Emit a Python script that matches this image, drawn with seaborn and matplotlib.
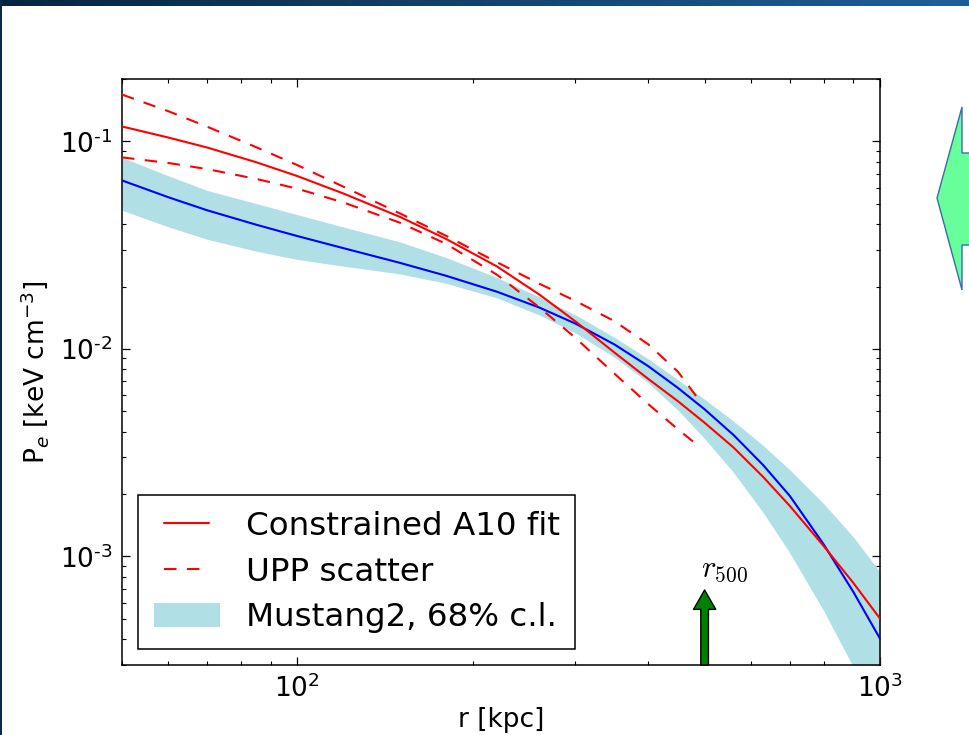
import numpy as np
import pandas as pd
import matplotlib
matplotlib.use("Agg")
import matplotlib.pyplot as plt
import seaborn as sns
from matplotlib.patches import Polygon
from matplotlib.colors import LinearSegmentedColormap
from matplotlib.legend_handler import HandlerLine2D
from matplotlib.ticker import LogLocator, FuncFormatter, NullFormatter

# ---------------------------------------------------------------- data
# radius grid (kpc) for the Mustang2 profile and the A10 fit
r_grid = [50, 60, 70, 85, 100, 120, 150, 180, 220, 260, 300, 350, 400,
          450, 500, 560, 630, 700, 800, 900, 1000]

# Mustang2 pressure profile: median and 68% confidence band (keV cm^-3)
p_m2 = [0.0649, 0.0539, 0.0466, 0.0397, 0.0350, 0.0306, 0.0260, 0.02253,
        0.01888, 0.01585, 0.01326, 0.01052, 0.00827, 0.00649, 0.00512,
        0.00386, 0.00276, 0.00196, 0.001147, 0.000675, 0.000402]
p_m2_hi = [0.0838, 0.0684, 0.0581, 0.0502, 0.0444, 0.0387, 0.0328, 0.0276,
           0.0221, 0.01784, 0.01462, 0.01138, 0.00897, 0.00711, 0.00572,
           0.00450, 0.00343, 0.00262, 0.00180, 0.001242, 0.000842]
p_m2_lo = [0.0466, 0.0388, 0.0338, 0.0296, 0.0270, 0.02506, 0.0230,
           0.02072, 0.01764, 0.01459, 0.01195, 0.00914, 0.00688, 0.00507,
           0.00370, 0.00255, 0.001629, 0.001041, 0.000549, 0.000293,
           0.0001566]

# constrained A10 (gNFW) fit
p_a10 = [0.1181, 0.1045, 0.0935, 0.0794, 0.0681, 0.0561, 0.0433, 0.0339,
         0.0250, 0.01832, 0.01359, 0.00962, 0.00718, 0.00560, 0.00441,
         0.00336, 0.00242, 0.001754, 0.001125, 0.000746, 0.000502]

# universal pressure profile scatter envelope
r_upp_hi = [50, 60, 70, 85, 100, 120, 150, 180, 220, 260, 300, 350, 400,
            450, 495]
p_upp_hi = [0.1683, 0.1400, 0.1178, 0.0938, 0.0769, 0.0605, 0.0450, 0.0351,
            0.0262, 0.02065, 0.01705, 0.01362, 0.01054, 0.00777, 0.00543]
r_upp_lo = [50, 60, 70, 85, 100, 120, 150, 180, 220, 260, 300, 350, 400,
            450, 485]
p_upp_lo = [0.0838, 0.0788, 0.0736, 0.0660, 0.0592, 0.0508, 0.0406, 0.0321,
            0.0228, 0.01589, 0.01132, 0.00761, 0.00543, 0.00410, 0.00346]

r500 = 500.0
r500_tip = 6.9e-4

xlim = (50, 1000)
ylim = (3e-4, 0.2)

legend_labels = ["Constrained A10 fit", "UPP scatter", "Mustang2, 68% c.l."]

# ---------------------------------------------------------------- style
sns.set_theme(style="ticks")
plt.rcParams.update({
    "font.family": ["DejaVu Sans"],
    "mathtext.fontset": "dejavusans",
    "text.color": "black",
    "axes.labelcolor": "black",
    "xtick.labelcolor": "black",
    "ytick.labelcolor": "black",
    "xtick.direction": "in",
    "ytick.direction": "in",
    "xtick.top": True,
    "ytick.right": True,
    "xtick.major.size": 6,
    "ytick.major.size": 6,
    "xtick.minor.size": 3,
    "ytick.minor.size": 3,
    "xtick.major.width": 0.9,
    "ytick.major.width": 0.9,
    "xtick.minor.width": 0.8,
    "ytick.minor.width": 0.8,
    "axes.linewidth": 1.1,
    "axes.edgecolor": "black",
    "xtick.color": "black",
    "ytick.color": "black",
})


class InsetLineHandler(HandlerLine2D):
    """Legend line handle drawn a little shorter than the patch handles."""

    def create_artists(self, legend, orig_handle, xdescent, ydescent,
                       width, height, fontsize, trans):
        pad = 0.16 * width
        return super().create_artists(legend, orig_handle, xdescent - pad,
                                      ydescent, width - 2 * pad, height,
                                      fontsize, trans)


fig = plt.figure(figsize=(9.70, 7.35), dpi=100)
fig.patch.set_facecolor("white")

# slide decorations: gradient header strip and dark left edge
hdr = fig.add_axes([0, 1 - 6 / 735, 1, 6 / 735])
grad = np.linspace(0, 1, 256)[None, :]
hdr_cmap = LinearSegmentedColormap.from_list("hdr", ["#062440", "#14446e", "#1f5f98"])
hdr.imshow(grad, aspect="auto", cmap=hdr_cmap, extent=[0, 1, 0, 1])
hdr.set_axis_off()
edge = fig.add_axes([0, 0, 2 / 970, 1])
edge.set_facecolor("#0a2b48")
edge.set_xticks([]); edge.set_yticks([])
for s in edge.spines.values():
    s.set_visible(False)

# block arrow on the right side of the slide
arrow_px = [(937, 198), (962, 107), (962, 153), (975, 153), (975, 245),
            (962, 245), (962, 290)]
fig.patches.append(Polygon([(x / 970, 1 - y / 735) for x, y in arrow_px],
                           closed=True, transform=fig.transFigure,
                           facecolor="#66ff99", edgecolor="#3a6ab0",
                           linewidth=1.0, figure=fig))

# ---------------------------------------------------------------- plot
ax = fig.add_axes([122 / 970, 70 / 735, 758 / 970, 586 / 735])
ax.set_xscale("log")
ax.set_yscale("log")

band = ax.fill_between(r_grid, p_m2_lo, p_m2_hi, color="#b0e0e6",
                       linewidth=0, zorder=1, label=legend_labels[2])

df_m2 = pd.DataFrame({"r": r_grid, "P": p_m2})
sns.lineplot(data=df_m2, x="r", y="P", ax=ax, color="#0000ff", lw=1.5,
             estimator=None, sort=False, zorder=3)

sns.lineplot(x=r_upp_hi, y=p_upp_hi, ax=ax, color="#ff0000", lw=1.5,
             estimator=None, sort=False, zorder=4)
sns.lineplot(x=r_upp_lo, y=p_upp_lo, ax=ax, color="#ff0000", lw=1.5,
             estimator=None, sort=False, zorder=4)
for ln in ax.lines[-2:]:
    ln.set_dashes((6, 5))
dash_line = ax.lines[-1]

sns.lineplot(x=r_grid, y=p_a10, ax=ax, color="#ff0000", lw=1.5,
             estimator=None, sort=False, zorder=5)
fit_line = ax.lines[-1]

# r500 marker
ax.annotate("", xy=(r500, r500_tip), xytext=(r500, ylim[0]),
            arrowprops=dict(facecolor="#008000", edgecolor="black",
                            width=5.5, headwidth=16, headlength=14,
                            shrink=0, lw=1.0),
            zorder=6, annotation_clip=False)
ax.text(r500 * 0.985, r500_tip * 1.07, r"$r_{500}$", math_fontfamily="cm",
        fontsize=22, ha="left", va="bottom", zorder=6)

ax.set_xlim(*xlim)
ax.set_ylim(*ylim)


def sci_label(v, pos):
    e = int(round(np.log10(v)))
    return r"$\mathregular{10^{%s}}$" % str(e).replace("-", "\u2010")


ax.xaxis.set_major_locator(LogLocator(base=10, numticks=10))
ax.xaxis.set_minor_locator(LogLocator(base=10, subs=np.arange(2, 10), numticks=20))
ax.yaxis.set_major_locator(LogLocator(base=10, numticks=10))
ax.yaxis.set_minor_locator(LogLocator(base=10, subs=np.arange(2, 10), numticks=20))
ax.xaxis.set_major_formatter(FuncFormatter(sci_label))
ax.yaxis.set_major_formatter(FuncFormatter(sci_label))
ax.xaxis.set_minor_formatter(NullFormatter())
ax.yaxis.set_minor_formatter(NullFormatter())
ax.tick_params(axis="both", which="major", labelsize=19, pad=7)
ax.tick_params(axis="both", which="both", top=True, right=True)

ax.set_xlabel("r [kpc]", fontsize=19, labelpad=3)
ax.set_ylabel(r"P$_e$ [keV cm$^{-3}$]", fontsize=19, labelpad=6)

leg = ax.legend([fit_line, dash_line, band], legend_labels, loc="lower left",
                fontsize=23.4, frameon=True, fancybox=False, framealpha=1,
                edgecolor="black", borderpad=0.47, labelspacing=0.46,
                handlelength=2.05, handleheight=0.74, handletextpad=0.8,
                borderaxespad=0.5,
                handler_map={fit_line: InsetLineHandler(),
                             dash_line: InsetLineHandler()})
leg.get_frame().set_linewidth(1.1)

fig.savefig("out.png", dpi=100)
